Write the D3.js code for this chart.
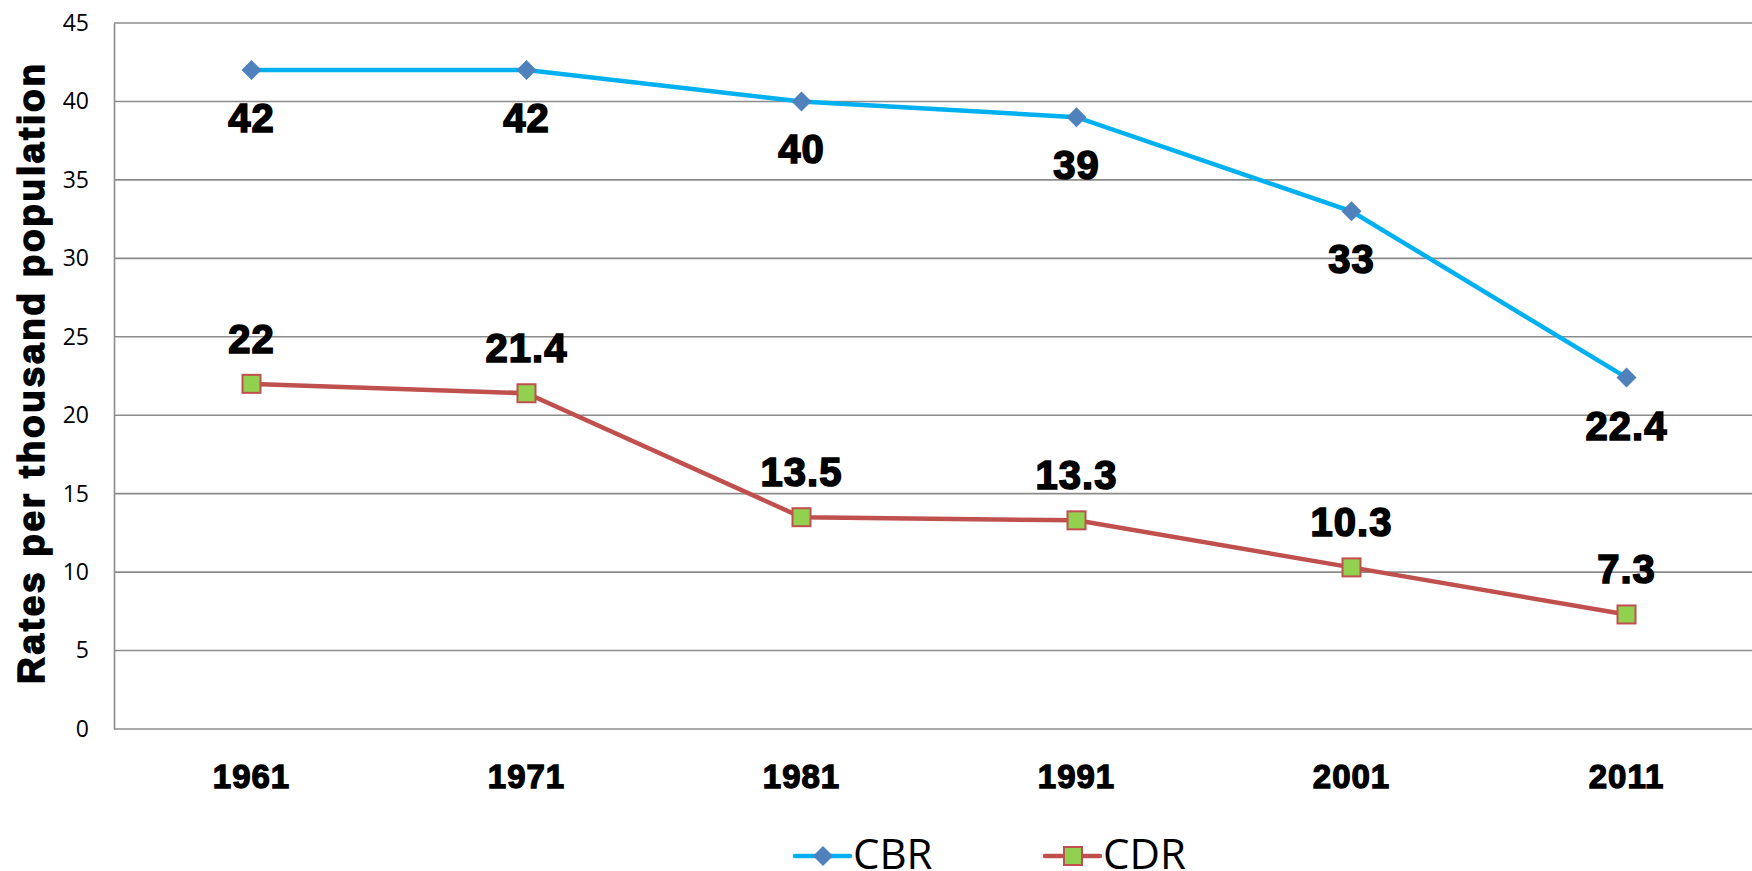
<!DOCTYPE html>
<html>
<head>
<meta charset="utf-8">
<script src="https://cdn.jsdelivr.net/npm/d3@7"></script>
<style>
  body { margin: 0; background: #fff; }
  .tick text { font-family: "Open Sans", sans-serif; }
</style>
</head>
<body>
<div class="chart"></div>
<script>
// data
let years = ["1961", "1971", "1981", "1991", "2001", "2011"];
let cbr = [42, 42, 40, 39, 33, 22.4];
let cdr = [22, 21.4, 13.5, 13.3, 10.3, 7.3];
let yTicks = [0, 5, 10, 15, 20, 25, 30, 35, 40, 45];

let svgWidth = 1752;
let svgHeight = 871;

let margin = { top: 23, left: 114 };
let width = 1650;
let height = 706;

let heavy = "'Liberation Sans', Arial, sans-serif";

let svg = d3.select(".chart")
  .append("svg")
  .attr("width", svgWidth)
  .attr("height", svgHeight);

let chart = svg.append("g")
  .attr("transform", `translate(${margin.left}, ${margin.top})`);

let xScale = d3.scaleBand().domain(years).range([0, width]);
let yScale = d3.scaleLinear().domain([0, 45]).range([height, 0]);
let xMid = d => xScale(d) + xScale.bandwidth() / 2;

// gridlines
chart.append("g")
  .selectAll("line")
  .data(yTicks)
  .enter()
  .append("line")
  .attr("x1", 0)
  .attr("x2", width)
  .attr("y1", d => yScale(d))
  .attr("y2", d => yScale(d))
  .attr("stroke", "#8c8c8c")
  .attr("stroke-width", 1.6);

// y axis
let yAxis = d3.axisLeft(yScale).tickValues(yTicks).tickSize(0).tickPadding(25);
let yG = chart.append("g").call(yAxis);
yG.select(".domain").attr("stroke", "#8c8c8c").attr("stroke-width", 1.6);
yG.selectAll("text").style("font-size", "23px").attr("fill", "#000");

// x axis labels
let xAxis = d3.axisBottom(xScale).tickSize(0).tickPadding(36);
let xG = chart.append("g").attr("transform", `translate(0, ${height})`).call(xAxis);
xG.select(".domain").remove();
xG.selectAll("text")
  .style("font-family", heavy)
  .style("font-weight", "bold")
  .style("font-size", "33px")
  .attr("fill", "#000")
  .attr("stroke", "#000")
  .attr("stroke-width", 1.3)
  .attr("letter-spacing", 1);

// y title
svg.append("text")
  .attr("transform", `translate(44, 374) rotate(-90)`)
  .attr("text-anchor", "middle")
  .attr("font-family", heavy)
  .attr("font-weight", "bold")
  .attr("font-size", "37px")
  .attr("stroke", "#000")
  .attr("stroke-width", 1.5)
  .attr("textLength", 620)
  .attr("lengthAdjust", "spacing")
  .text("Rates per thousand population");

let line = d3.line()
  .x((d, i) => xMid(years[i]))
  .y(d => yScale(d));

// CBR line
chart.append("path")
  .datum(cbr)
  .attr("d", line)
  .attr("fill", "none")
  .attr("stroke", "#00b0f0")
  .attr("stroke-width", 4.5);

// CDR line
chart.append("path")
  .datum(cdr)
  .attr("d", line)
  .attr("fill", "none")
  .attr("stroke", "#c0504d")
  .attr("stroke-width", 4.5);

let diamond = d3.symbol().type(d3.symbolSquare).size(200);

chart.selectAll(".cbr-pt")
  .data(cbr)
  .enter()
  .append("path")
  .attr("class", "cbr-pt")
  .attr("d", diamond)
  .attr("transform", (d, i) => `translate(${xMid(years[i])}, ${yScale(d)}) rotate(45)`)
  .attr("fill", "#4f81bd");

chart.selectAll(".cdr-pt")
  .data(cdr)
  .enter()
  .append("rect")
  .attr("class", "cdr-pt")
  .attr("x", (d, i) => xMid(years[i]) - 9)
  .attr("y", d => yScale(d) - 9)
  .attr("width", 18)
  .attr("height", 18)
  .attr("fill", "#92d050")
  .attr("stroke", "#c0504d")
  .attr("stroke-width", 2);

// data labels
function styleLabel(sel) {
  sel.attr("text-anchor", "middle")
    .attr("font-family", heavy)
    .attr("font-weight", "bold")
    .attr("font-size", "40px")
    .attr("stroke", "#000")
    .attr("stroke-width", 1.6)
    .attr("letter-spacing", 1)
    .text(d => d);
}

chart.selectAll(".cbr-lbl")
  .data(cbr)
  .enter()
  .append("text")
  .attr("class", "cbr-lbl")
  .attr("x", (d, i) => xMid(years[i]))
  .attr("y", d => yScale(d) + 62)
  .call(styleLabel);

chart.selectAll(".cdr-lbl")
  .data(cdr)
  .enter()
  .append("text")
  .attr("class", "cdr-lbl")
  .attr("x", (d, i) => xMid(years[i]))
  .attr("y", d => yScale(d) - 31)
  .call(styleLabel);

// legend (sits on the bottom edge, as in the original)
let legend = svg.append("g");
legend.append("line")
  .attr("x1", 795).attr("x2", 850).attr("y1", 856).attr("y2", 856)
  .attr("stroke", "#00b0f0").attr("stroke-width", 4.5).attr("stroke-linecap", "round");
legend.append("path")
  .attr("d", diamond)
  .attr("transform", "translate(823, 856) rotate(45)")
  .attr("fill", "#4f81bd");
legend.append("text")
  .attr("x", 853).attr("y", 869)
  .attr("font-family", "'Open Sans', sans-serif")
  .attr("font-size", "42px")
  .text("CBR");

legend.append("line")
  .attr("x1", 1045).attr("x2", 1100).attr("y1", 856).attr("y2", 856)
  .attr("stroke", "#c0504d").attr("stroke-width", 4.5).attr("stroke-linecap", "round");
legend.append("rect")
  .attr("x", 1064).attr("y", 847).attr("width", 18).attr("height", 18)
  .attr("fill", "#92d050").attr("stroke", "#c0504d").attr("stroke-width", 2);
legend.append("text")
  .attr("x", 1103).attr("y", 869)
  .attr("font-family", "'Open Sans', sans-serif")
  .attr("font-size", "42px")
  .text("CDR");
</script>
</body>
</html>
